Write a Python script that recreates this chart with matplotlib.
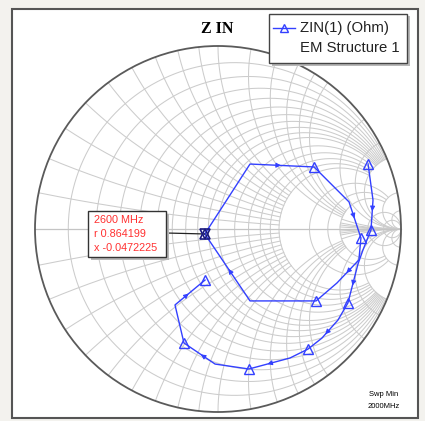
import numpy as np
import matplotlib
matplotlib.use("Agg")
import matplotlib.pyplot as plt
from matplotlib.patches import Rectangle, Circle

# ---------------- data (reflection coefficient) -------------
loop_re = [-0.072, 0.175, 0.525, 0.716, 0.781, 0.770, 0.650, 0.536, 0.175, -0.072]
loop_im = [-0.027, 0.355, 0.339, 0.148, -0.049, -0.169, -0.295, -0.393, -0.393, -0.027]
loop_tri = [2, 4, 7]

spiral_re = [0.820, 0.847, 0.836, 0.792, 0.765, 0.710, 0.656, 0.568, 0.492, 0.393,
             0.169, -0.016, -0.186, -0.235, -0.071]
spiral_im = [0.355, 0.158, -0.005, -0.115, -0.191, -0.404, -0.497, -0.596, -0.656, -0.705,
             -0.765, -0.738, -0.623, -0.415, -0.279]
spiral_tri = [0, 2, 5, 8, 10, 12, 14]

marker_freq = "2600 MHz"
marker_r = 0.864199
marker_x = -0.0472225

r_grid = [0.1, 0.2, 0.3, 0.4, 0.5, 0.6, 0.7, 0.8, 0.9, 1.0, 1.2, 1.4, 1.6, 1.8, 2.0, 3.0, 4.0, 5.0, 10.0, 20.0]
x_grid = [0.1, 0.2, 0.3, 0.4, 0.5, 0.6, 0.7, 0.8, 0.9, 1.0, 1.2, 1.4, 1.6, 1.8, 2.0, 3.0, 4.0, 5.0, 10.0, 20.0]

# ---------------- layout ----------------
W, H = 425, 421
CX, CY, RAD = 218.0, 229.0, 183.0

def P(px, py):
    """pixel -> chart (gamma) coordinates"""
    return (px - CX) / RAD, (CY - py) / RAD

fig = plt.figure(figsize=(W / 100, H / 100), dpi=100)
fig.patch.set_facecolor("#f3f2ee")
ax = fig.add_axes([0, 0, 1, 1])
x0, y1 = P(0, 0)
x1, y0 = P(W, H)
ax.set_xlim(x0, x1)
ax.set_ylim(y0, y1)
ax.axis("off")

# frame with shadow
fx0, fy1 = P(12, 9)
fx1, fy0 = P(418, 418)
ax.add_patch(Rectangle((fx0, fy0), fx1 - fx0, fy1 - fy0, facecolor="white",
                       edgecolor="#555555", lw=1.5, zorder=0))

GRID = "#cccccc"

def gam(z):
    return (z - 1) / (z + 1)

# resistance circles
for r in r_grid:
    if r <= 2.0:
        xlim = 5.0
    elif r <= 5.0:
        xlim = 10.0
    else:
        xlim = 1e4
    t = np.linspace(-np.arctan(xlim), np.arctan(xlim), 800)
    xs = np.tan(t)
    g = gam(r + 1j * xs)
    ax.plot(g.real, g.imag, color=GRID, lw=0.75, zorder=1)

# reactance arcs
for xv in x_grid:
    if xv <= 1.0:
        rmax = 2.0
    elif xv <= 2.0:
        rmax = 5.0
    else:
        rmax = 1e4
    s = np.linspace(0, np.arctan(rmax), 400)
    rs = np.tan(s)
    for sgn in (1, -1):
        g = gam(rs + 1j * sgn * xv)
        ax.plot(g.real, g.imag, color=GRID, lw=0.75, zorder=1)
# short arcs near open circuit region
for xv in [0.2, 0.4, 0.6, 1.0]:
    s = np.linspace(np.arctan(5.0), np.arctan(1e4), 300)
    rs = np.tan(s)
    for sgn in (1, -1):
        g = gam(rs + 1j * sgn * xv)
        ax.plot(g.real, g.imag, color=GRID, lw=0.75, zorder=1)

# real axis
ax.plot([-1, 1], [0, 0], color="#c4c4c4", lw=0.9, zorder=1)
# outer circle
ax.add_patch(Circle((0, 0), 1.0, fill=False, edgecolor="#5a5a5a", lw=1.3, zorder=2))

BLUE = "#3340ff"

def draw_trace(re, im, tri):
    ax.plot(re, im, color=BLUE, lw=1.0, zorder=4)
    ax.plot([re[i] for i in tri], [im[i] for i in tri], linestyle="none", marker="^",
            markersize=7, markerfacecolor="none", markeredgecolor=BLUE, mew=1.0, zorder=5)

draw_trace(loop_re, loop_im, loop_tri)
draw_trace(spiral_re, spiral_im, spiral_tri)

def arrow(re, im, i, frac):
    xa, ya = re[i], im[i]
    xb, yb = re[i + 1], im[i + 1]
    mx, my = xa + frac * (xb - xa), ya + frac * (yb - ya)
    d = np.hypot(xb - xa, yb - ya)
    ux, uy = (xb - xa) / d, (yb - ya) / d
    ax.annotate("", xy=(mx + 0.012 * ux, my + 0.012 * uy), xytext=(mx - 0.012 * ux, my - 0.012 * uy),
                arrowprops=dict(arrowstyle="-|>", color=BLUE, lw=0.8, mutation_scale=7,
                                shrinkA=0, shrinkB=0), zorder=5)

for i, f in [(1, 0.45), (3, 0.4), (5, 0.5), (8, 0.45)]:
    arrow(loop_re, loop_im, i, f)
for i, f in [(1, 0.3), (4, 0.5), (6, 0.7), (9, 0.5), (11, 0.4), (13, 0.4)]:
    arrow(spiral_re, spiral_im, i, f)

# marker at 2600 MHz
z = marker_r + 1j * marker_x
gm = gam(z)
ax.plot([gm.real], [gm.imag], marker="^", markersize=7, markerfacecolor="none",
        markeredgecolor="#1a1a80", mew=1.2, zorder=6)
ax.plot([gm.real], [gm.imag], marker="v", markersize=7, markerfacecolor="none",
        markeredgecolor="#1a1a80", mew=1.2, zorder=6)

# annotation box
bx0, by1 = P(88, 211)
bx1, by0 = P(166, 257)
sh = 2.5 / RAD
ax.add_patch(Rectangle((bx0 + sh, by0 - sh), bx1 - bx0, by1 - by0, facecolor="#b8b8b8",
                       edgecolor="none", zorder=6))
ax.add_patch(Rectangle((bx0, by0), bx1 - bx0, by1 - by0, facecolor="white",
                       edgecolor="#333333", lw=1.0, zorder=7))
ax.plot([bx1, gm.real], [P(0, 233)[1], gm.imag], color="#222222", lw=0.9, zorder=5)
RED = "#ff3030"
for k, txt in enumerate([marker_freq, f"r {marker_r:g}", f"x {marker_x:g}"]):
    tx, ty = P(94, 220 + 14 * k)
    ax.text(tx, ty, txt, color=RED, fontsize=7.8, family="Liberation Sans",
            va="center", ha="left", zorder=8)

# title
tx, ty = P(217, 29)
ax.text(tx, ty, "Z IN", fontsize=11.5, fontweight="bold", family="Liberation Serif",
        ha="center", va="center", zorder=8)

# legend
lx0, ly1 = P(269, 14)
lx1, ly0 = P(407, 63)
ax.add_patch(Rectangle((lx0 + sh, ly0 - sh), lx1 - lx0, ly1 - ly0, facecolor="#b8b8b8",
                       edgecolor="none", zorder=6))
ax.add_patch(Rectangle((lx0, ly0), lx1 - lx0, ly1 - ly0, facecolor="white",
                       edgecolor="#444444", lw=1.0, zorder=7))
a, b = P(273, 28)
c, _ = P(295, 28)
ax.plot([a, c], [b, b], color=BLUE, lw=1.0, zorder=8)
ax.plot([(a + c) / 2], [b], marker="^", markersize=6, markerfacecolor="none",
        markeredgecolor=BLUE, mew=1.0, zorder=9)
tx, ty = P(300, 28)
ax.text(tx, ty, "ZIN(1) (Ohm)", fontsize=10.7, family="Liberation Sans", color="#222222",
        ha="left", va="center", zorder=9)
tx, ty = P(300, 48)
ax.text(tx, ty, "EM Structure 1", fontsize=10.7, family="Liberation Sans", color="#222222",
        ha="left", va="center", zorder=9)

# sweep info
tx, ty = P(384, 394)
ax.text(tx, ty, "Swp Min", fontsize=5.5, family="Liberation Sans", ha="center", va="center", zorder=8)
tx, ty = P(384, 407)
ax.text(tx, ty, "2000MHz", fontsize=5.5, family="Liberation Sans", ha="center", va="center", zorder=8)

fig.savefig("out.png", dpi=100, facecolor=fig.get_facecolor())
